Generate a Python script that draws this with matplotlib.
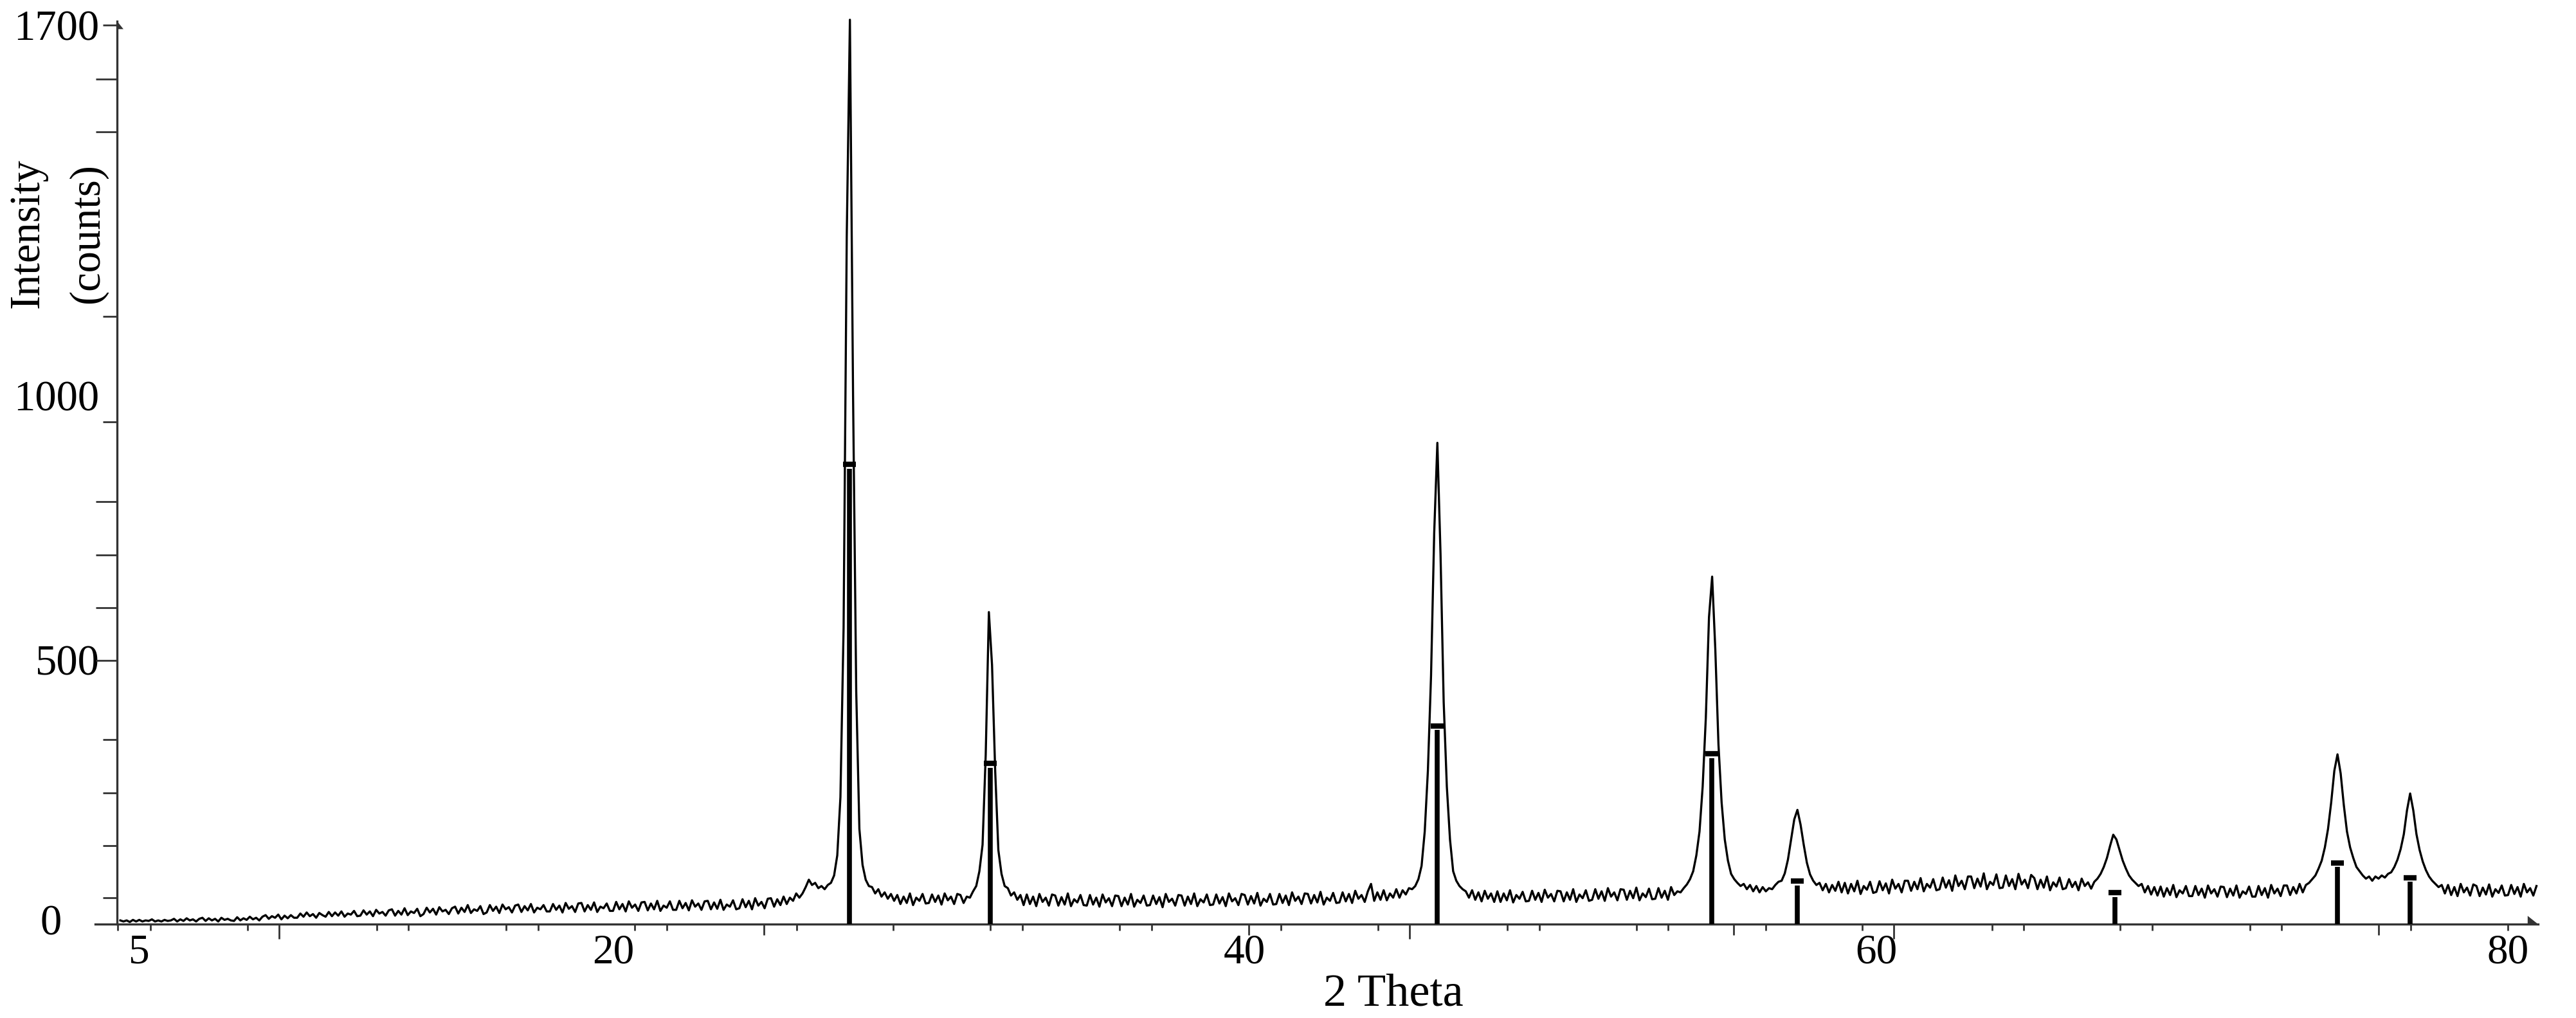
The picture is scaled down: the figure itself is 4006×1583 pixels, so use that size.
import numpy as np
import matplotlib
matplotlib.use("Agg")
import matplotlib.pyplot as plt
from matplotlib import transforms

# XRD scan: start angle, step and counts (10 values per degree)
scan_start = 4.4
scan_step = 0.1
scan_counts = [
    7, 5, 7, 4, 8, 5,                                   # 4.4 - 4.9
    8, 5, 7, 6, 9, 5, 7, 5, 8, 6,                       # 5
    7, 10, 5, 9, 6, 11, 7, 9, 5, 10,
    12, 6, 11, 7, 10, 5, 12, 8, 10, 7,
    6, 13, 7, 11, 8, 14, 9, 12, 7, 14,
    17, 10, 15, 12, 18, 9, 16, 11, 17, 12,
    12, 20, 14, 22, 15, 19, 12, 21, 17, 14,             # 10
    23, 15, 22, 16, 24, 14, 20, 18, 25, 15,
    16, 26, 18, 24, 15, 27, 20, 23, 16, 26,
    28, 16, 25, 18, 30, 17, 24, 21, 29, 15,
    19, 31, 22, 29, 18, 32, 24, 27, 19, 30,
    33, 20, 31, 23, 36, 21, 28, 25, 34, 19,             # 15
    22, 36, 25, 33, 21, 37, 28, 32, 22, 35,
    37, 23, 34, 26, 38, 22, 31, 28, 36, 24,
    24, 38, 27, 35, 22, 40, 29, 34, 23, 39,
    40, 24, 36, 27, 41, 23, 33, 30, 39, 25,
    25, 42, 28, 38, 24, 43, 31, 37, 25, 41,             # 20
    42, 26, 39, 28, 44, 25, 35, 31, 43, 27,
    27, 44, 30, 40, 26, 45, 33, 39, 27, 43,
    44, 28, 41, 29, 46, 27, 37, 33, 45, 28,
    30, 47, 32, 44, 28, 49, 35, 42, 30, 48,
    49, 33, 47, 36, 52, 38, 50, 44, 58, 50,             # 25
    58, 70, 84, 74, 78, 68, 72, 66, 74, 78,
    92, 130, 240, 560, 1300, 1710, 1000, 440, 180, 112,
    84, 72, 70, 58, 66, 52, 60, 48, 57, 44,
    55, 38, 52, 40, 58, 36, 50, 44, 57, 39,
    40, 56, 42, 54, 37, 58, 45, 52, 38, 57,             # 30
    55, 40, 52, 50, 62, 72, 100, 150, 320, 590,
    490, 290, 140, 95, 72, 68, 54, 60, 46, 55,
    36, 56, 38, 52, 34, 57, 42, 50, 35, 56,
    54, 35, 51, 37, 58, 34, 47, 41, 55, 36,
    35, 55, 37, 50, 33, 56, 41, 49, 34, 54,             # 35
    53, 34, 50, 37, 57, 33, 46, 40, 54, 35,
    36, 54, 38, 51, 32, 57, 42, 48, 35, 55,
    54, 35, 52, 38, 58, 34, 47, 41, 56, 36,
    37, 56, 39, 51, 34, 58, 43, 49, 36, 57,
    55, 37, 53, 39, 59, 35, 48, 42, 57, 37,             # 40
    38, 57, 40, 54, 36, 60, 44, 52, 38, 58,
    57, 39, 55, 41, 61, 37, 50, 44, 59, 40,
    41, 60, 43, 57, 40, 63, 48, 55, 42, 62,
    76, 44, 60, 46, 64, 45, 58, 50, 66, 50,
    64, 56, 68, 66, 72, 85, 110, 175, 290, 470,         # 45
    740, 910, 700, 420, 260, 160, 100, 82, 72, 66,
    62, 50, 64, 46, 60, 43, 63, 48, 58, 42,
    62, 42, 58, 45, 64, 41, 55, 48, 61, 43,
    44, 63, 46, 59, 42, 65, 50, 57, 43, 63,
    62, 43, 60, 46, 66, 42, 56, 49, 64, 44,             # 50
    46, 66, 48, 62, 44, 68, 52, 60, 45, 66,
    65, 46, 63, 49, 69, 45, 58, 51, 67, 47,
    48, 68, 50, 63, 46, 70, 55, 62, 60, 68,
    75, 85, 100, 130, 175, 260, 390, 580, 657, 520,
    340, 230, 160, 120, 95, 85, 78, 72, 76, 66,         # 55
    74, 62, 72, 60, 70, 62, 68, 66, 74, 80,
    82, 96, 122, 160, 198, 216, 188, 150, 116, 94,
    82, 74, 78, 64, 76, 60, 74, 63, 80, 60,
    78, 58, 76, 62, 82, 57, 72, 65, 80, 59,
    61, 81, 64, 77, 58, 84, 67, 76, 60, 82,             # 60
    82, 63, 80, 66, 87, 62, 76, 69, 85, 64,
    66, 88, 69, 83, 63, 92, 72, 82, 66, 90,
    90, 68, 86, 71, 96, 66, 80, 74, 94, 68,
    69, 92, 72, 85, 66, 95, 75, 84, 68, 93,
    87, 66, 84, 69, 90, 64, 79, 71, 88, 66,             # 65
    68, 85, 70, 80, 64, 86, 72, 79, 67, 80,
    86, 95, 108, 125, 148, 169, 160, 140, 120, 105,
    92, 84, 78, 72, 76, 60, 72, 56, 70, 54,
    71, 52, 68, 55, 74, 51, 64, 58, 72, 53,
    53, 72, 55, 67, 50, 73, 58, 66, 52, 71,             # 70
    70, 51, 67, 54, 73, 50, 62, 57, 71, 52,
    52, 72, 55, 68, 50, 74, 58, 67, 53, 73,
    73, 55, 70, 58, 76, 60, 74, 78, 85, 92,
    105, 120, 145, 180, 230, 290, 321, 285, 225, 175,
    145, 125, 108, 100, 92, 86, 90, 82, 90, 86,         # 75
    92, 88, 95, 98, 108, 122, 142, 170, 215, 247,
    215, 170, 140, 118, 102, 90, 82, 76, 70, 74,
    58, 74, 55, 70, 53, 76, 60, 69, 54, 75,
    72, 53, 69, 56, 75, 52, 66, 59, 73, 54,
    55, 74, 57, 70, 52, 76, 60, 68, 54, 72,             # 80
]
two_theta = np.round(scan_start + scan_step * np.arange(len(scan_counts)), 2)

# reference pattern sticks
ref_pos = [27.48, 31.94, 46.09, 54.78, 57.5, 67.55, 74.6, 76.9]
ref_counts = [869, 304, 375, 322, 81, 59, 116, 88]

xtick_vals = [5, 20, 40, 60, 80]
ytick_vals = [0, 500, 1000, 1700]

plt.rcParams["font.family"] = "Liberation Serif"
axis_col = "#333333"

fig = plt.figure(figsize=(40.06, 15.83), dpi=100)
ax = fig.add_axes([0.0369, 0.09223, 0.94837, 0.89356])
ax.set_xlim(3.6, 80.95)
ax.set_ylim(0, 1720)

ax.plot(two_theta, scan_counts, color="black", lw=2.4, zorder=3)
ax.vlines(ref_pos, 0, np.array(ref_counts) - 8, color="black", lw=5.5,
          capstyle="butt", zorder=4)
ax.plot(ref_pos, ref_counts, ls="none", marker="_", ms=14, mew=6,
        color="black", zorder=4)

# axes: only left + bottom, y axis sits at 4.3
y_axis_x = 4.3
for s in ["top", "right"]:
    ax.spines[s].set_visible(False)
ax.spines["left"].set_position(("data", y_axis_x))
ax.spines["left"].set_bounds(0, 1707)
for s in ["left", "bottom"]:
    ax.spines[s].set_linewidth(2.4)
    ax.spines[s].set_color(axis_col)

ax.set_xticks(xtick_vals)
ax.set_xticklabels([str(v) for v in xtick_vals])
ax.set_yticks(ytick_vals)
ax.set_yticklabels([""] + [str(v) for v in ytick_vals[1:]])
ax.tick_params(axis="both", length=0)
ax.tick_params(axis="x", pad=11, labelsize=47)
ax.tick_params(axis="y", pad=20, labelsize=48)

# the "0" label sits further left than the others
ax.text(y_axis_x, 0, "0", fontsize=48, ha="right", va="center",
        transform=transforms.offset_copy(ax.transData, fig=fig, x=-86, y=0, units="dots"))

# tick marks (irregular in the original)
xt_short = [4.32, 5.35, 8.43, 12.52, 13.52, 16.61, 17.63, 20.68, 21.70, 25.81,
            28.87, 31.94, 32.96, 36.03, 37.05, 41.14, 44.22, 48.31, 49.33, 52.40,
            53.40, 56.49, 59.55, 63.66, 64.66, 67.71, 68.73, 71.82, 72.82, 76.91, 79.99]
xt_mid = [24.78, 40.13, 55.48, 75.90]
xt_long = [9.43, 45.21, 60.55]
ax_h = 0.89356 * 1583
bt = transforms.blended_transform_factory(ax.transData, ax.transAxes)
for pos, ln in [(xt_short, 10), (xt_mid, 17), (xt_long, 23)]:
    ax.vlines(pos, -ln / ax_h, 0, transform=bt, color=axis_col, lw=2, clip_on=False)

yt_long = [499, 598, 698, 799, 1498, 1598]
yt_short = [50, 148, 248, 349, 950, 1149, 1700]
px_per_deg = 49.12
for pos, ln in [(yt_short, 22), (yt_long, 33)]:
    ax.hlines(pos, y_axis_x - ln / px_per_deg, y_axis_x, color=axis_col, lw=2, clip_on=False)

# half arrow heads at the axis ends
ax.plot([y_axis_x], [1707], marker=[(0, 0), (0.8, -1), (0, -1)], ms=17,
        color=axis_col, mew=0, clip_on=False)
ax.plot([80.95], [0], marker=[(0, 0), (-1, 0.8), (-1, 0)], ms=24,
        color=axis_col, mew=0, clip_on=False)

fig.text(2167 / 4006, 1 - 1563 / 1583, "2 Theta", fontsize=52,
         ha="center", va="baseline")
fig.text(60 / 4006, 1 - 363 / 1583, "Intensity", fontsize=48, rotation=90,
         rotation_mode="anchor", ha="center", va="baseline")
fig.text(153 / 4006, 1 - 363 / 1583, "(counts)", fontsize=48, rotation=90,
         rotation_mode="anchor", ha="center", va="baseline")

fig.savefig("out.png", dpi=100, facecolor="white")
